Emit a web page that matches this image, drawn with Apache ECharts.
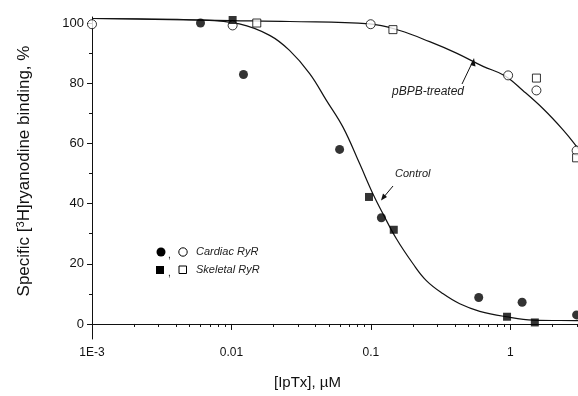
<!DOCTYPE html>
<html>
<head>
<meta charset="utf-8">
<script src="https://cdn.jsdelivr.net/npm/echarts@6/dist/echarts.min.js"></script>
<style>
  html, body { margin: 0; padding: 0; background: #fff; }
  #chart { width: 578px; height: 396px; }
</style>
</head>
<body>
<div id="chart"></div>
<script>
// [IpTx] concentrations (µM) and specific [3H]ryanodine binding (%)

// Control, cardiac RyR (filled circles)
const cardiacCtrlX = [0.006, 0.0122, 0.0597, 0.119, 0.594, 1.216, 2.99];
const cardiacCtrlY = [100, 82.9, 58.0, 35.3, 8.8, 7.2, 3.0];

// Control, skeletal RyR (filled squares)
const skeletalCtrlX = [0.0102, 0.097, 0.146, 0.948, 1.50];
const skeletalCtrlY = [101, 42.2, 31.3, 2.4, 0.5];

// pBPB-treated, cardiac RyR (open circles)
const cardiacPbpbX = [0.001, 0.0102, 0.0997, 0.965, 1.54, 2.99];
const cardiacPbpbY = [99.6, 99.2, 99.6, 82.6, 77.6, 57.6];

// pBPB-treated, skeletal RyR (open squares)
const skeletalPbpbX = [0.0152, 0.144, 1.54, 2.99];
const skeletalPbpbY = [100, 97.8, 81.7, 55.2];

// Fitted inhibition curves
const ctrlCurveX = [0.001, 0.006, 0.0114, 0.0188, 0.0261, 0.0364, 0.048, 0.0631, 0.0832,
                    0.1036, 0.1222, 0.1525, 0.2006, 0.250, 0.330, 0.434, 0.604, 0.939, 1.458, 2.99, 4.0];
const ctrlCurveY = [101.5, 101.0, 99.7, 95.9, 90.9, 83.2, 74.3, 65.4, 53.2,
                    43.2, 36.6, 28.3, 20.0, 14.4, 10.0, 6.7, 4.2, 2.4, 1.3, 1.1, 1.0];

const pbpbCurveX = [0.001, 0.01, 0.0261, 0.098, 0.161, 0.264, 0.411, 0.638, 0.913, 1.236, 1.72, 2.39, 2.99, 3.4];
const pbpbCurveY = [101.5, 100.8, 100.5, 99.7, 97.5, 93.8, 90.0, 85.6, 82.5, 77.5, 71.5, 64.5, 59.0, 55.5];

// Axis ticks
const xMajorTicks = [0.001, 0.01, 0.1, 1];
const xTickLabels = ['1E-3', '0.01', '0.1', '1'];
const xMinorTicks = [0.002, 0.003, 0.004, 0.005, 0.006, 0.007, 0.008, 0.009,
                     0.02, 0.03, 0.04, 0.05, 0.06, 0.07, 0.08, 0.09,
                     0.2, 0.3, 0.4, 0.5, 0.6, 0.7, 0.8, 0.9,
                     2, 3];
const yMajorTicks = [0, 20, 40, 60, 80, 100];
const yMinorTicks = [10, 30, 50, 70, 90];

const pairs = (xs, ys) => xs.map((x, i) => [x, ys[i]]);

const FONT = 'Liberation Sans';
const INK = '#111';

const chart = echarts.init(document.getElementById('chart'), null, { renderer: 'canvas' });

// the concentration axis runs past the right edge of the figure
const baseX = {
  type: 'log',
  logBase: 10,
  min: 0.001,
  max: 3.06,
  gridIndex: 0,
  splitLine: { show: false },
  minorSplitLine: { show: false }
};
const baseY = {
  type: 'value',
  min: -5,
  max: 102,
  gridIndex: 0,
  splitLine: { show: false }
};

const option = {
  animation: false,
  backgroundColor: '#fff',
  textStyle: { fontFamily: FONT },
  grid: { left: 92, top: 17, right: 0, bottom: 57, containLabel: false },
  xAxis: [
    Object.assign({}, baseX, {
      axisLine: { show: true, lineStyle: { color: INK, width: 1 } },
      axisTick: { show: true, inside: false, length: 6, customValues: xMajorTicks,
                  lineStyle: { color: INK, width: 1 } },
      axisLabel: {
        show: true, margin: 8, color: INK, fontFamily: FONT, fontSize: 12,
        customValues: xMajorTicks,
        formatter: v => {
          const i = xMajorTicks.findIndex(t => Math.abs(Math.log10(t) - Math.log10(v)) < 1e-6);
          return i >= 0 ? xTickLabels[i] : '';
        }
      }
    }),
    Object.assign({}, baseX, {
      axisLine: { show: false },
      axisTick: { show: true, inside: true, length: 3, customValues: xMinorTicks,
                  lineStyle: { color: INK, width: 1 } },
      axisLabel: { show: false }
    })
  ],
  yAxis: [
    Object.assign({}, baseY, {
      name: 'Specific [{sup|3}H]ryanodine binding, %',
      nameLocation: 'middle',
      nameGap: 58,
      nameTextStyle: {
        color: INK, fontFamily: FONT, fontSize: 17,
        padding: [0, 0, 0, 14],
        rich: { sup: { fontSize: 11, fontFamily: FONT, color: INK, padding: [0, 0, 8, 0] } }
      },
      axisLine: { show: true, lineStyle: { color: INK, width: 1 } },
      axisTick: { show: true, inside: false, length: 5, customValues: yMajorTicks,
                  lineStyle: { color: INK, width: 1 } },
      axisLabel: { show: true, margin: 8, color: INK, fontFamily: FONT, fontSize: 13,
                   customValues: yMajorTicks }
    }),
    Object.assign({}, baseY, {
      position: 'left',
      axisLine: { show: false },
      axisTick: { show: true, inside: false, length: 3, customValues: yMinorTicks,
                  lineStyle: { color: INK, width: 1 } },
      axisLabel: { show: false }
    })
  ],
  series: [
    {
      name: 'Control fit', type: 'line', data: pairs(ctrlCurveX, ctrlCurveY),
      smooth: 0.4, showSymbol: false, symbol: 'none', clip: false,
      lineStyle: { color: '#111', width: 1.2 }, z: 2
    },
    {
      name: 'pBPB fit', type: 'line', data: pairs(pbpbCurveX, pbpbCurveY),
      smooth: 0.4, showSymbol: false, symbol: 'none', clip: false,
      lineStyle: { color: '#111', width: 1.2 }, z: 2
    },
    {
      name: 'Cardiac RyR, control', type: 'scatter', data: pairs(cardiacCtrlX, cardiacCtrlY),
      symbol: 'circle', symbolSize: 9, clip: false,
      itemStyle: { color: '#000' }, z: 4
    },
    {
      name: 'Skeletal RyR, control', type: 'scatter', data: pairs(skeletalCtrlX, skeletalCtrlY),
      symbol: 'rect', symbolSize: 8, clip: false,
      itemStyle: { color: '#000' }, z: 4
    },
    {
      name: 'Cardiac RyR, pBPB', type: 'scatter', data: pairs(cardiacPbpbX, cardiacPbpbY),
      symbol: 'circle', symbolSize: 9, clip: false,
      itemStyle: { color: '#fff', borderColor: '#000', borderWidth: 1 }, z: 3
    },
    {
      name: 'Skeletal RyR, pBPB', type: 'scatter', data: pairs(skeletalPbpbX, skeletalPbpbY),
      symbol: 'rect', symbolSize: 8, clip: false,
      itemStyle: { color: '#fff', borderColor: '#000', borderWidth: 1 }, z: 3
    }
  ],
  graphic: [
    // x-axis title
    { type: 'text', left: 274, top: 375,
      style: { text: '[IpTx], µM', font: '15px "Liberation Sans"', fill: INK } },

    // key
    { type: 'circle', shape: { cx: 161, cy: 252, r: 4.5 }, style: { fill: '#000' } },
    { type: 'text', x: 168, y: 250, style: { text: ',', font: '10px "Liberation Sans"', fill: INK } },
    { type: 'circle', shape: { cx: 183, cy: 252, r: 4.2 }, style: { fill: '#fff', stroke: '#000', lineWidth: 1 } },
    { type: 'text', x: 196, y: 246, style: { text: 'Cardiac RyR', font: 'italic 11px "Liberation Sans"', fill: '#222' } },

    { type: 'rect', shape: { x: 156, y: 266, width: 8, height: 8 }, style: { fill: '#000' } },
    { type: 'text', x: 168, y: 268, style: { text: ',', font: '10px "Liberation Sans"', fill: INK } },
    { type: 'rect', shape: { x: 179, y: 266, width: 7.5, height: 7.5 }, style: { fill: '#fff', stroke: '#000', lineWidth: 1 } },
    { type: 'text', x: 196, y: 264, style: { text: 'Skeletal RyR', font: 'italic 11px "Liberation Sans"', fill: '#222' } },

    // curve annotations
    { type: 'text', x: 392, y: 86, style: { text: 'pBPB-treated', font: 'italic 12px "Liberation Sans"', fill: '#222' } },
    { type: 'line', shape: { x1: 462, y1: 84, x2: 473, y2: 61 }, style: { stroke: '#111', lineWidth: 1 } },
    { type: 'polygon', shape: { points: [[474, 58], [470.5, 65], [475.5, 66.5]] }, style: { fill: '#111' } },

    { type: 'text', x: 395, y: 168, style: { text: 'Control', font: 'italic 11px "Liberation Sans"', fill: '#222' } },
    { type: 'line', shape: { x1: 393, y1: 186, x2: 383, y2: 198 }, style: { stroke: '#111', lineWidth: 1 } },
    { type: 'polygon', shape: { points: [[381, 200.5], [383, 193.5], [387, 197]] }, style: { fill: '#111' } }
  ]
};

chart.setOption(option);
</script>
</body>
</html>
